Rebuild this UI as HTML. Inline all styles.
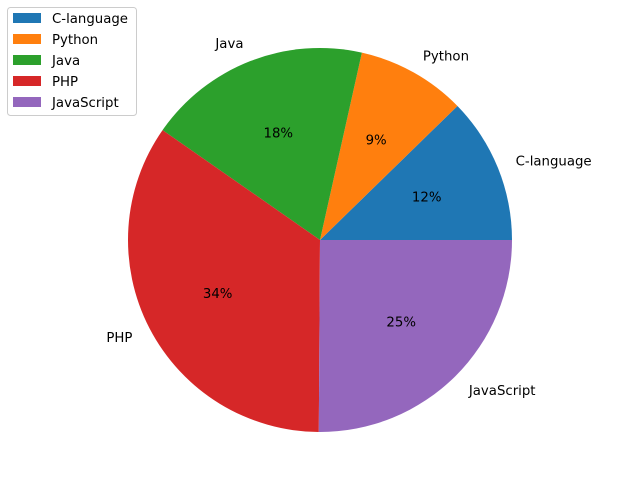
<!DOCTYPE html>
<html><head><meta charset="utf-8"><style>
body{margin:0;background:#fff;}
svg text{font-family:"DejaVu Sans","Liberation Sans",sans-serif;font-size:13.3px;fill:#000;}
</style></head><body>
<svg id="chart" width="640" height="480"></svg>
<script>
const categories=["C-language","Python","Java","PHP","JavaScript"];
const values=[12.3,9.2,18.8,34.6,25.1];
const colors=["#1f77b4","#ff7f0e","#2ca02c","#d62728","#9467bd"];
const svg=document.getElementById('chart');
const NS="http://www.w3.org/2000/svg";
const cx=320,cy=240,r=192;
const total=values.reduce((a,b)=>a+b,0);
function pt(a,rr){return [cx+rr*Math.cos(a*Math.PI/180),cy-rr*Math.sin(a*Math.PI/180)];}
let start=0;
values.forEach((v,i)=>{
  const sweep=v/total*360,end=start+sweep;
  const p1=pt(start,r),p2=pt(end,r);
  const path=document.createElementNS(NS,'path');
  path.setAttribute('d',`M${cx},${cy} L${p1[0]},${p1[1]} A${r},${r} 0 ${sweep>180?1:0} 0 ${p2[0]},${p2[1]} Z`);
  path.setAttribute('fill',colors[i]);
  
  
  svg.appendChild(path);
  const mid=start+sweep/2;
  const lp=pt(mid,r*1.1);
  const t=document.createElementNS(NS,'text');
  t.setAttribute('x',lp[0]);t.setAttribute('y',lp[1]+5);
  t.setAttribute('text-anchor',Math.cos(mid*Math.PI/180)>=0?'start':'end');
  t.textContent=categories[i];
  
  
  svg.appendChild(t);
  const pp=pt(mid,r*0.6);
  const t2=document.createElementNS(NS,'text');
  t2.setAttribute('x',pp[0]);t2.setAttribute('y',pp[1]+5);
  t2.setAttribute('text-anchor','middle');
  t2.textContent=Math.floor(v/total*100)+'%';
  
  
  svg.appendChild(t2);
  start=end;
});
const lg=document.createElementNS(NS,'g');


svg.appendChild(lg);
const box=document.createElementNS(NS,'rect');
box.setAttribute('x',7.5);box.setAttribute('y',7.5);box.setAttribute('width',129);box.setAttribute('height',108);
box.setAttribute('rx',3);box.setAttribute('fill','#fff');box.setAttribute('fill-opacity','0.8');box.setAttribute('stroke','#ccc');
lg.appendChild(box);
categories.forEach((c,i)=>{
  const y=13+i*21;
  const sw=document.createElementNS(NS,'rect');
  sw.setAttribute('x',13);sw.setAttribute('y',y);sw.setAttribute('width',28);sw.setAttribute('height',10);
  sw.setAttribute('fill',colors[i]);
  
  
  lg.appendChild(sw);
  const t=document.createElementNS(NS,'text');
  t.setAttribute('x',52);t.setAttribute('y',y+10);
  t.textContent=c;
  
  
  lg.appendChild(t);
});
</script>
</body></html>
